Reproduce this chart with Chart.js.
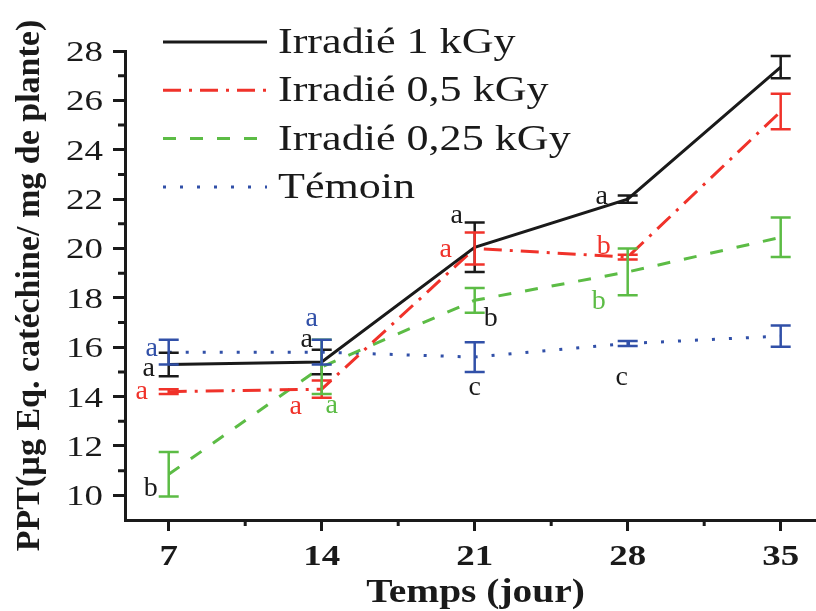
<!DOCTYPE html>
<html>
<head>
<meta charset="utf-8">
<script src="https://cdn.jsdelivr.net/npm/chart.js@4.4.1/dist/chart.umd.min.js"></script>
<style>
  html, body { margin: 0; padding: 0; background: #fff; overflow: hidden; }
  #wrap { width: 830px; height: 611px; }
</style>
</head>
<body>
<div id="wrap"><canvas id="chart" width="830" height="611"></canvas></div>
<script>
// Jours de mesure + graduations
const days = [7, 14, 21, 28, 35];
const xTicks = [7, 14, 21, 28, 35];
const xMinor = [10.5, 17.5, 24.5, 31.5];
const yTicks = [10, 12, 14, 16, 18, 20, 22, 24, 26, 28];
const yMinor = [11, 13, 15, 17, 19, 21, 23, 25, 27];

// PPT moyen (µg Eq. catéchine / mg de plante)
const k1 = [15.3, 15.4, 20.05, 22.0, 27.35];
const k05 = [14.2, 14.3, 20.0, 19.65, 25.55];
const k025 = [10.85, 15.2, 17.9, 19.05, 20.45];
const temoin = [15.8, 15.8, 15.6, 16.15, 16.45];

// Barres d'erreur
const k1Err = [0.48, 0.5, 1.0, 0.15, 0.45];
const k05Err = [0.1, 0.35, 0.65, 0.1, 0.72];
const k025Err = [0.9, 1.1, 0.5, 0.95, 0.8];
const temoinErr = [0.5, 0.5, 0.6, 0.1, 0.43];

// Lettres de significativité
const k1Letters = ['a', 'a', 'a', 'a', ''];
const k05Letters = ['a', 'a', 'a', 'b', ''];
const k025Letters = ['b', 'a', 'b', 'b', ''];
const temoinLetters = ['a', 'a', 'c', 'c', ''];

const xTitle = 'Temps (jour)';
const yTitle = 'PPT(µg Eq. catéchine/ mg de plante)';

const BLACK = '#1a1a1a';
const RED = '#f0322a';
const GREEN = '#5cbc45';
const BLUE = '#3150a8';
const SERIF = '"Liberation Serif", "Times New Roman", serif';

const series = [
  { label: 'Irradié 1 kGy', vals: k1, err: k1Err, letters: k1Letters, color: BLACK, dash: [],
    letterColors: [BLACK, BLACK, BLACK, BLACK],
    offsets: [[-20, 4], [-15, -22], [-18, -32], [-26, -2]] },
  { label: 'Irradié 0,5 kGy', vals: k05, err: k05Err, letters: k05Letters, color: RED, dash: [18, 8, 3, 8],
    letterColors: [RED, RED, RED, RED],
    offsets: [[-27, 0], [-26, 17], [-29, 1], [-24, -10]] },
  { label: 'Irradié 0,25 kGy', vals: k025, err: k025Err, letters: k025Letters, color: GREEN, dash: [13, 14],
    letterColors: [BLACK, GREEN, BLACK, GREEN],
    offsets: [[-18, 14], [10, 39], [16, 18], [-29, 30]] },
  { label: 'Témoin', vals: temoin, err: temoinErr, letters: temoinLetters, color: BLUE, dash: [3, 14],
    letterColors: [BLUE, BLUE, BLACK, BLACK],
    offsets: [[-17, -4], [-10, -34], [0, 31], [-6, 34]] }
];

// texte étiré horizontalement (la figure d'origine est élargie)
function wideText(ctx, text, x, y, sx, align) {
  ctx.save();
  ctx.translate(x, y);
  ctx.scale(sx, 1);
  ctx.textAlign = align;
  ctx.fillText(text, 0, 0);
  ctx.restore();
}

// Barres d'erreur, lettres, graduations, légende
const extras = {
  id: 'extras',
  afterDatasetsDraw(chart) {
    const { ctx, scales: { x, y } } = chart;
    ctx.save();
    series.forEach(s => {
      ctx.strokeStyle = s.color;
      ctx.lineWidth = 2.5;
      ctx.setLineDash([]);
      s.vals.forEach((v, i) => {
        const px = x.getPixelForValue(days[i]);
        const top = y.getPixelForValue(v + s.err[i]);
        const bot = y.getPixelForValue(v - s.err[i]);
        ctx.beginPath();
        ctx.moveTo(px, top); ctx.lineTo(px, bot);
        ctx.moveTo(px - 10, top); ctx.lineTo(px + 10, top);
        ctx.moveTo(px - 10, bot); ctx.lineTo(px + 10, bot);
        ctx.stroke();
      });
    });
    ctx.font = '28px ' + SERIF;
    ctx.textAlign = 'center';
    ctx.textBaseline = 'middle';
    series.forEach(s => {
      s.letters.forEach((t, i) => {
        if (!t) return;
        const px = x.getPixelForValue(days[i]) + s.offsets[i][0];
        const py = y.getPixelForValue(s.vals[i]) + s.offsets[i][1];
        ctx.fillStyle = s.letterColors[i];
        ctx.fillText(t, px, py);
      });
    });
    ctx.restore();
  },
  afterDraw(chart) {
    const { ctx, chartArea: a, scales: { x, y } } = chart;
    ctx.save();
    // petites graduations
    ctx.strokeStyle = BLACK;
    ctx.lineWidth = 3;
    ctx.beginPath();
    yMinor.forEach(v => {
      const py = y.getPixelForValue(v);
      ctx.moveTo(a.left - 7, py); ctx.lineTo(a.left, py);
    });
    xMinor.forEach(v => {
      const px = x.getPixelForValue(v);
      ctx.moveTo(px, a.bottom); ctx.lineTo(px, a.bottom + 6);
    });
    ctx.stroke();

    ctx.fillStyle = BLACK;
    ctx.textBaseline = 'alphabetic';
    // étiquettes y
    ctx.font = '30px ' + SERIF;
    yTicks.forEach(v => {
      wideText(ctx, String(v), a.left - 22, y.getPixelForValue(v) + 10, 1.23, 'right');
    });
    // étiquettes x
    ctx.font = 'bold 30px ' + SERIF;
    xTicks.forEach(v => {
      wideText(ctx, String(v), x.getPixelForValue(v), a.bottom + 45, 1.23, 'center');
    });
    // titre x
    ctx.font = 'bold 34px ' + SERIF;
    wideText(ctx, xTitle, (a.left + 824) / 2 + 1, a.bottom + 82, 1.16, 'center');

    // légende
    ctx.font = '35px ' + SERIF;
    series.forEach((s, i) => {
      const ly = a.top - 9 + i * 48.3;
      ctx.strokeStyle = s.color;
      ctx.lineWidth = 3;
      ctx.setLineDash(s.dash);
      ctx.beginPath();
      ctx.moveTo(a.left + 38, ly); ctx.lineTo(a.left + 142, ly);
      ctx.stroke();
      ctx.setLineDash([]);
      ctx.fillStyle = BLACK;
      wideText(ctx, s.label, a.left + 153, ly + 11, 1.26, 'left');
    });
    ctx.restore();
  }
};

new Chart(document.getElementById('chart'), {
  type: 'line',
  data: {
    datasets: series.map(s => ({
      label: s.label,
      data: days.map((d, i) => ({ x: d, y: s.vals[i] })),
      borderColor: s.color,
      borderWidth: 3,
      borderDash: s.dash,
      pointRadius: 0,
      tension: 0,
      fill: false
    }))
  },
  options: {
    responsive: false,
    animation: false,
    layout: { padding: { top: 51, right: 5.6, left: 0, bottom: 0 } },
    plugins: { legend: { display: false }, tooltip: { enabled: false } },
    scales: {
      x: {
        type: 'linear',
        min: 5, max: 37,
        afterBuildTicks: s => { s.ticks = xTicks.map(v => ({ value: v })); },
        afterFit: s => { s.height = 91; },
        grid: { drawOnChartArea: false, drawTicks: true, tickLength: 11, tickWidth: 3, tickColor: BLACK },
        border: { color: BLACK, width: 3 },
        ticks: { display: false }
      },
      y: {
        min: 9, max: 28,
        afterBuildTicks: s => { s.ticks = yTicks.map(v => ({ value: v })); },
        afterFit: s => { s.width = 125; },
        grid: { drawOnChartArea: false, drawTicks: true, tickLength: 12, tickWidth: 3, tickColor: BLACK },
        border: { color: BLACK, width: 3 },
        ticks: { display: false },
        title: { display: true, text: yTitle, color: BLACK,
                 padding: { top: 10, bottom: 0 }, font: { family: SERIF, size: 34, weight: 'bold' } }
      }
    }
  },
  plugins: [extras]
});
</script>
</body>
</html>
